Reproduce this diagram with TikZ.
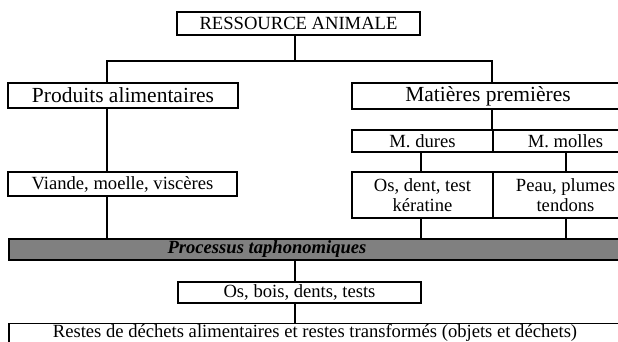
\documentclass[tikz,border=0pt]{standalone}
\usepackage{fontspec}
\setmainfont{Liberation Serif}
\usetikzlibrary{positioning}

\begin{document}
\begin{tikzpicture}[x=1pt, y=-1pt,
        every node/.style={draw, inner sep=0pt, align=center, font=\fontsize{18.6}{20.5}\selectfont},
        bigbox/.style={line width=2.8pt},
        thinbox/.style={line width=1.1pt},
        link/.style={line width=2.8pt}
    ]
    \useasboundingbox (0,0) rectangle (618,342);
    \clip (0,0) rectangle (618,342);
    % columns for the links
    \coordinate (cmain) at (295,0);
    \coordinate (cleft) at (107,0);
    \coordinate (cright) at (492,0);
    \coordinate (chard) at (421,0);
    \coordinate (csoft) at (566,0);
    \coordinate (split) at (295,61);
    % boxes
    \node[bigbox, minimum width=243, minimum height=23] (res) at (298.5,23.5) {RESSOURCE ANIMALE};
    \node[bigbox, minimum width=230, minimum height=25, font=\fontsize{21.5}{23}\selectfont] (prod) at (123,95.5) {Produits alimentaires};
    \node[bigbox, minimum width=272, minimum height=26, font=\fontsize{21.5}{23}\selectfont] (mat) at (488,96) {Matières premières};
    \node[thinbox, minimum width=141, minimum height=22] (dures) at (422.5,141) {M. dures};
    \node[thinbox, minimum width=145, minimum height=22] (molles) at (565.5,141) {M. molles};
    \node[thinbox, minimum width=229, minimum height=24] (viande) at (122.5,184) {Viande, moelle, viscères};
    \node[thinbox, minimum width=141, minimum height=46] (dur) at (422.5,195) {Os, dent, test\\kératine};
    \node[thinbox, minimum width=145, minimum height=46] (mou) at (565.5,195) {Peau, plumes\\tendons};
    \node[thinbox, fill=black!50, minimum width=631, minimum height=21] (taph) at (324.5,249.5) {};
    \node[draw=none, font=\fontsize{18.6}{20.5}\selectfont\bfseries\itshape] (taphtxt) at (267,249.5) {Processus taphonomiques};
    \node[thinbox, minimum width=243, minimum height=21] (osbois) at (299.5,292.5) {Os, bois, dents, tests};
    \node[thinbox, minimum width=631, minimum height=30, anchor=north] (restes) at (324.5,323) {};
    \node[draw=none] (restxt) at (315,332.5) {Restes de déchets alimentaires et restes transformés (objets et déchets)};
    % links
    \draw[link] (res.south -| cmain) -- (split);
    \draw[link] (prod.north -| cleft) |- (split) -| (mat.north -| cright);
    \draw[link] (prod.south -| cleft) -- (viande.north -| cleft);
    \draw[link] (viande.south -| cleft) -- (taph.north -| cleft);
    \draw[link] (mat.south -| cright) -- (dures.north -| cright);
    \draw[link] (dures.south -| chard) -- (dur.north -| chard);
    \draw[link] (molles.south -| csoft) -- (mou.north -| csoft);
    \draw[link] (dur.south -| chard) -- (taph.north -| chard);
    \draw[link] (mou.south -| csoft) -- (taph.north -| csoft);
    \draw[link] (taph.south -| cmain) -- (osbois.north -| cmain);
    \draw[link] (osbois.south -| cmain) -- (restes.north -| cmain);
\end{tikzpicture}
\end{document}
